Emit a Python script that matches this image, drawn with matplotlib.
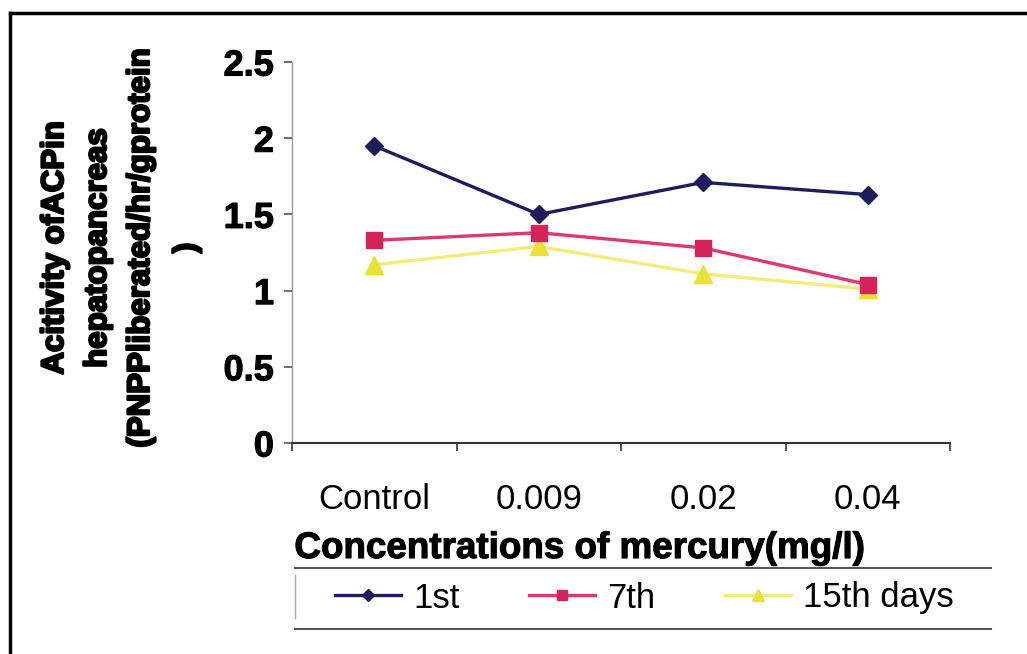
import matplotlib
matplotlib.use("Agg")
import matplotlib.pyplot as plt
import matplotlib.patheffects as pe
from matplotlib.lines import Line2D
from matplotlib.ticker import FixedLocator

plt.rcParams["font.family"] = ["Liberation Sans", "DejaVu Sans"]

concentrations = ["Control", "0.009", "0.02", "0.04"]
day1 = [1.95, 1.50, 1.71, 1.63]
day7 = [1.33, 1.38, 1.28, 1.04]
day15 = [1.17, 1.29, 1.11, 1.01]
series_labels = ["1st", "7th", "15th days"]
y_ticks = [0, 0.5, 1, 1.5, 2, 2.5]
y_label_lines = ["Acitivity ofACPin", "hepatopancreas", "(PNPPliberated/hr/gprotein", ")"]

W, H = 1027, 654
fig = plt.figure(figsize=(W / 100, H / 100), dpi=100)
fig.patch.set_facecolor("white")


def fx(px):
    return px / W


def fy(py):
    return 1 - py / H


heavy = [pe.withStroke(linewidth=1.6, foreground="black")]
semi_heavy = [pe.withStroke(linewidth=0.8, foreground="black")]

ax = fig.add_axes([fx(292), fy(443), fx(950) - fx(292), fy(62) - fy(443)])
ax.set_facecolor("white")

x = list(range(len(concentrations)))
ax.plot(x, day1, color="#1e1c5e", lw=2.4, marker="D", ms=9, mfc="#1e1c5e", mec="#1e1c5e",
        label=series_labels[0], zorder=3)
ax.plot(x, day7, color="#e0386a", lw=2.4, marker="s", ms=11, mfc="#d4245a", mec="#d4245a",
        label=series_labels[1], zorder=2)
ax.plot(x, day15, color="#f3ec78", lw=2.4, marker="^", ms=13, mfc="#ebe035", mec="#ebe035",
        label=series_labels[2], zorder=1)

ax.set_xlim(-0.5, len(concentrations) - 0.5)
ax.set_ylim(0, 2.5)
ax.set_yticks(y_ticks)
ax.set_yticklabels([f"{v:g}" for v in y_ticks], fontsize=26, fontweight="bold")
for lbl in ax.get_yticklabels():
    lbl.set_path_effects(semi_heavy)
ax.tick_params(axis="y", direction="out", length=6, width=1.2, color="#555555", pad=7)

# category labels sit between the boundary ticks
ax.set_xticks(x)
ax.set_xticklabels(concentrations, fontsize=25)
ax.tick_params(axis="x", which="major", length=0, pad=29)
ax.xaxis.set_minor_locator(FixedLocator([i - 0.5 for i in range(len(concentrations) + 1)]))
ax.tick_params(axis="x", which="minor", direction="out", length=6, width=1.2, color="#333333")

for side in ("top", "right"):
    ax.spines[side].set_visible(False)
ax.spines["left"].set_color("#9a9a9a")
ax.spines["left"].set_linewidth(1.0)
ax.spines["bottom"].set_color("#333333")
ax.spines["bottom"].set_linewidth(1.5)

for px, text in zip([55, 98, 141, 187], y_label_lines):
    fig.text(fx(px), fy(248), text, rotation=90, ha="center", va="center",
             fontsize=22.5, fontweight="bold", path_effects=heavy)

fig.text(fx(579), fy(558), "Concentrations of mercury(mg/l)", ha="center", va="baseline",
         fontsize=26.5, fontweight="bold", path_effects=semi_heavy)

leg = ax.legend(loc="center left", bbox_to_anchor=(fx(335), fy(598)),
                bbox_transform=fig.transFigure, ncol=3, frameon=False, fontsize=25,
                handlelength=1.9, handletextpad=0.35, columnspacing=2.0,
                borderpad=0, borderaxespad=0, markerscale=0.7)

# legend box rules and outer chart frame
fig.add_artist(Line2D([fx(295), fx(991)], [fy(568), fy(568)], color="#555555", lw=1.5))
fig.add_artist(Line2D([fx(295), fx(991)], [fy(629), fy(629)], color="#555555", lw=1.5))
fig.add_artist(Line2D([fx(295), fx(295)], [fy(575), fy(618)], color="#aaaaaa", lw=1.0))
fig.add_artist(Line2D([fx(10), fx(10)], [fy(13), 0], color="black", lw=2.5))
fig.add_artist(Line2D([fx(10), 1], [fy(13), fy(13)], color="black", lw=2.5))

fig.savefig("out.png", dpi=100)
